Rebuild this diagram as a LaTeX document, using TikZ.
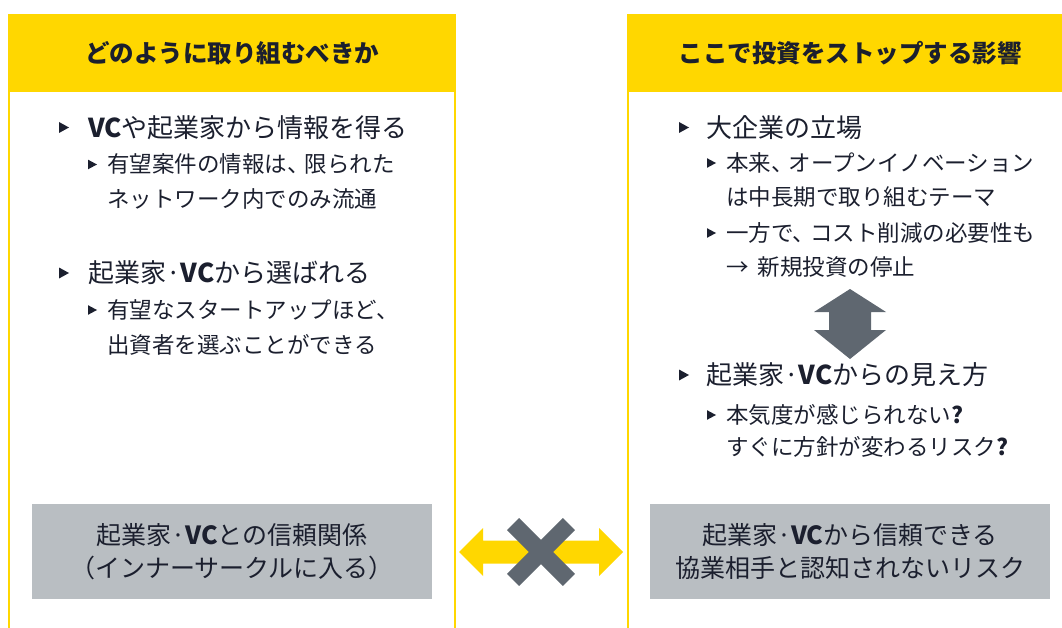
\documentclass[tikz,border=0pt]{standalone}
\usepackage{fontspec}
\setmainfont{Noto Sans CJK JP}
\definecolor{eyyellow}{HTML}{FFD700}
\definecolor{gbox}{HTML}{B9BEC2}
\definecolor{gshape}{HTML}{5F6770}
\definecolor{ink}{HTML}{1B1F2E}
\tikzset{
  hdr/.style={font=\fontsize{24.5}{28}\selectfont\bfseries, text=ink, inner sep=0},
  lvA/.style={font=\fontsize{26}{30}\selectfont, text=ink, anchor=base west, inner sep=0},
  lvB/.style={font=\fontsize{22.5}{26}\selectfont, text=ink, anchor=base west, inner sep=0},
  graybox/.style={fill=gbox, minimum width=400, minimum height=95, inner sep=0, text=ink,
     align=center, font=\fontsize{25}{33}\selectfont},
  bulA/.pic={\fill[ink] (0,-5.5) -- (10,0) -- (0,5.5) -- cycle;},
  bulB/.pic={\fill[ink] (0,-4.8) -- (9,0) -- (0,4.8) -- cycle;},
}
\newcommand{\tc}{、\kern-5pt}
\begin{document}
\begin{tikzpicture}[x=1pt,y=-1pt]
\useasboundingbox (0,0) rectangle (1062,628);
\clip (0,0) rectangle (1062,628);
% panels
\draw[draw=eyyellow, line width=2] (9,15) rectangle (455,700);
\fill[fill=eyyellow] (8,15) rectangle (456,92);
\draw[draw=eyyellow, line width=2] (628,15) rectangle (1074,700);
\fill[fill=eyyellow] (627,15) rectangle (1075,92);
\node[hdr] (hL) at (232,53.5) {どのように取り組むべきか};
\node[hdr] (hR) at (850,53.5) {ここで投資をストップする影響};
% left content
\pic at (59,127.5) {bulA};
\node[lvA] (l1) at (88,137.9) {\textbf{VC}や起業家から情報を得る};
\pic at (88,164.5) {bulB};
\node[lvB] (l1a) at (107,173) {有望案件の情報は\tc 限られた};
\node[lvB] (l1b) at (107,208) {ネットワーク内でのみ流通};
\pic at (59,273) {bulA};
\node[lvA] (l2) at (88,282.9) {起業家·\textbf{VC}から選ばれる};
\pic at (88,310) {bulB};
\node[lvB] (l2a) at (107,318.5) {有望なスタートアップほど、};
\node[lvB] (l2b) at (107,353.5) {出資者を選ぶことができる};
% right content
\pic at (679,127.5) {bulA};
\node[lvA] (r1) at (706,137.9) {大企業の立場};
\pic at (707,163) {bulB};
\node[lvB] (r1a) at (726,171.5) {本来\tc オープンイノベーション};
\node[lvB] (r1b) at (726,205.5) {は中長期で取り組むテーマ};
\pic at (707,233) {bulB};
\node[lvB] (r1c) at (726,241.5) {一方で\tc コスト削減の必要性も};
\node[lvB] (r1d) at (726,275.5) {→\hspace{9pt}新規投資の停止};
\fill[gshape] (850,289) -- (886,312) -- (871,312) -- (871,330) -- (886,330) -- (850,359)
   -- (814,330) -- (829,330) -- (829,312) -- (814,312) -- cycle;
\pic at (679,375) {bulA};
\node[lvA] (r2) at (706,384.9) {起業家·\textbf{VC}からの見え方};
\pic at (707,415) {bulB};
\node[lvB] (r2a) at (726,423.5) {本気度が感じられない\textbf{?}};
\node[lvB] (r2b) at (726,455.5) {すぐに方針が変わるリスク\textbf{?}};
% gray boxes
\node[graybox] (gL) at (232,551.5) {起業家·\textbf{VC}との信頼関係\\（インナーサークルに入る）};
\node[graybox] (gR) at (850,551.5) {起業家·\textbf{VC}から信頼できる\\協業相手と認知されないリスク};
% double arrow and cross
\fill[fill=eyyellow] (459,552) -- (483,528) -- (483,540.5) -- (599,540.5) -- (599,528) -- (623,552)
   -- (599,576) -- (599,563.5) -- (483,563.5) -- (483,576) -- cycle;
\fill[gshape, rotate around={45:(541,552)}] (501.5,543.5) rectangle (580.5,560.5);
\fill[gshape, rotate around={-45:(541,552)}] (501.5,543.5) rectangle (580.5,560.5);
\end{tikzpicture}
\end{document}
